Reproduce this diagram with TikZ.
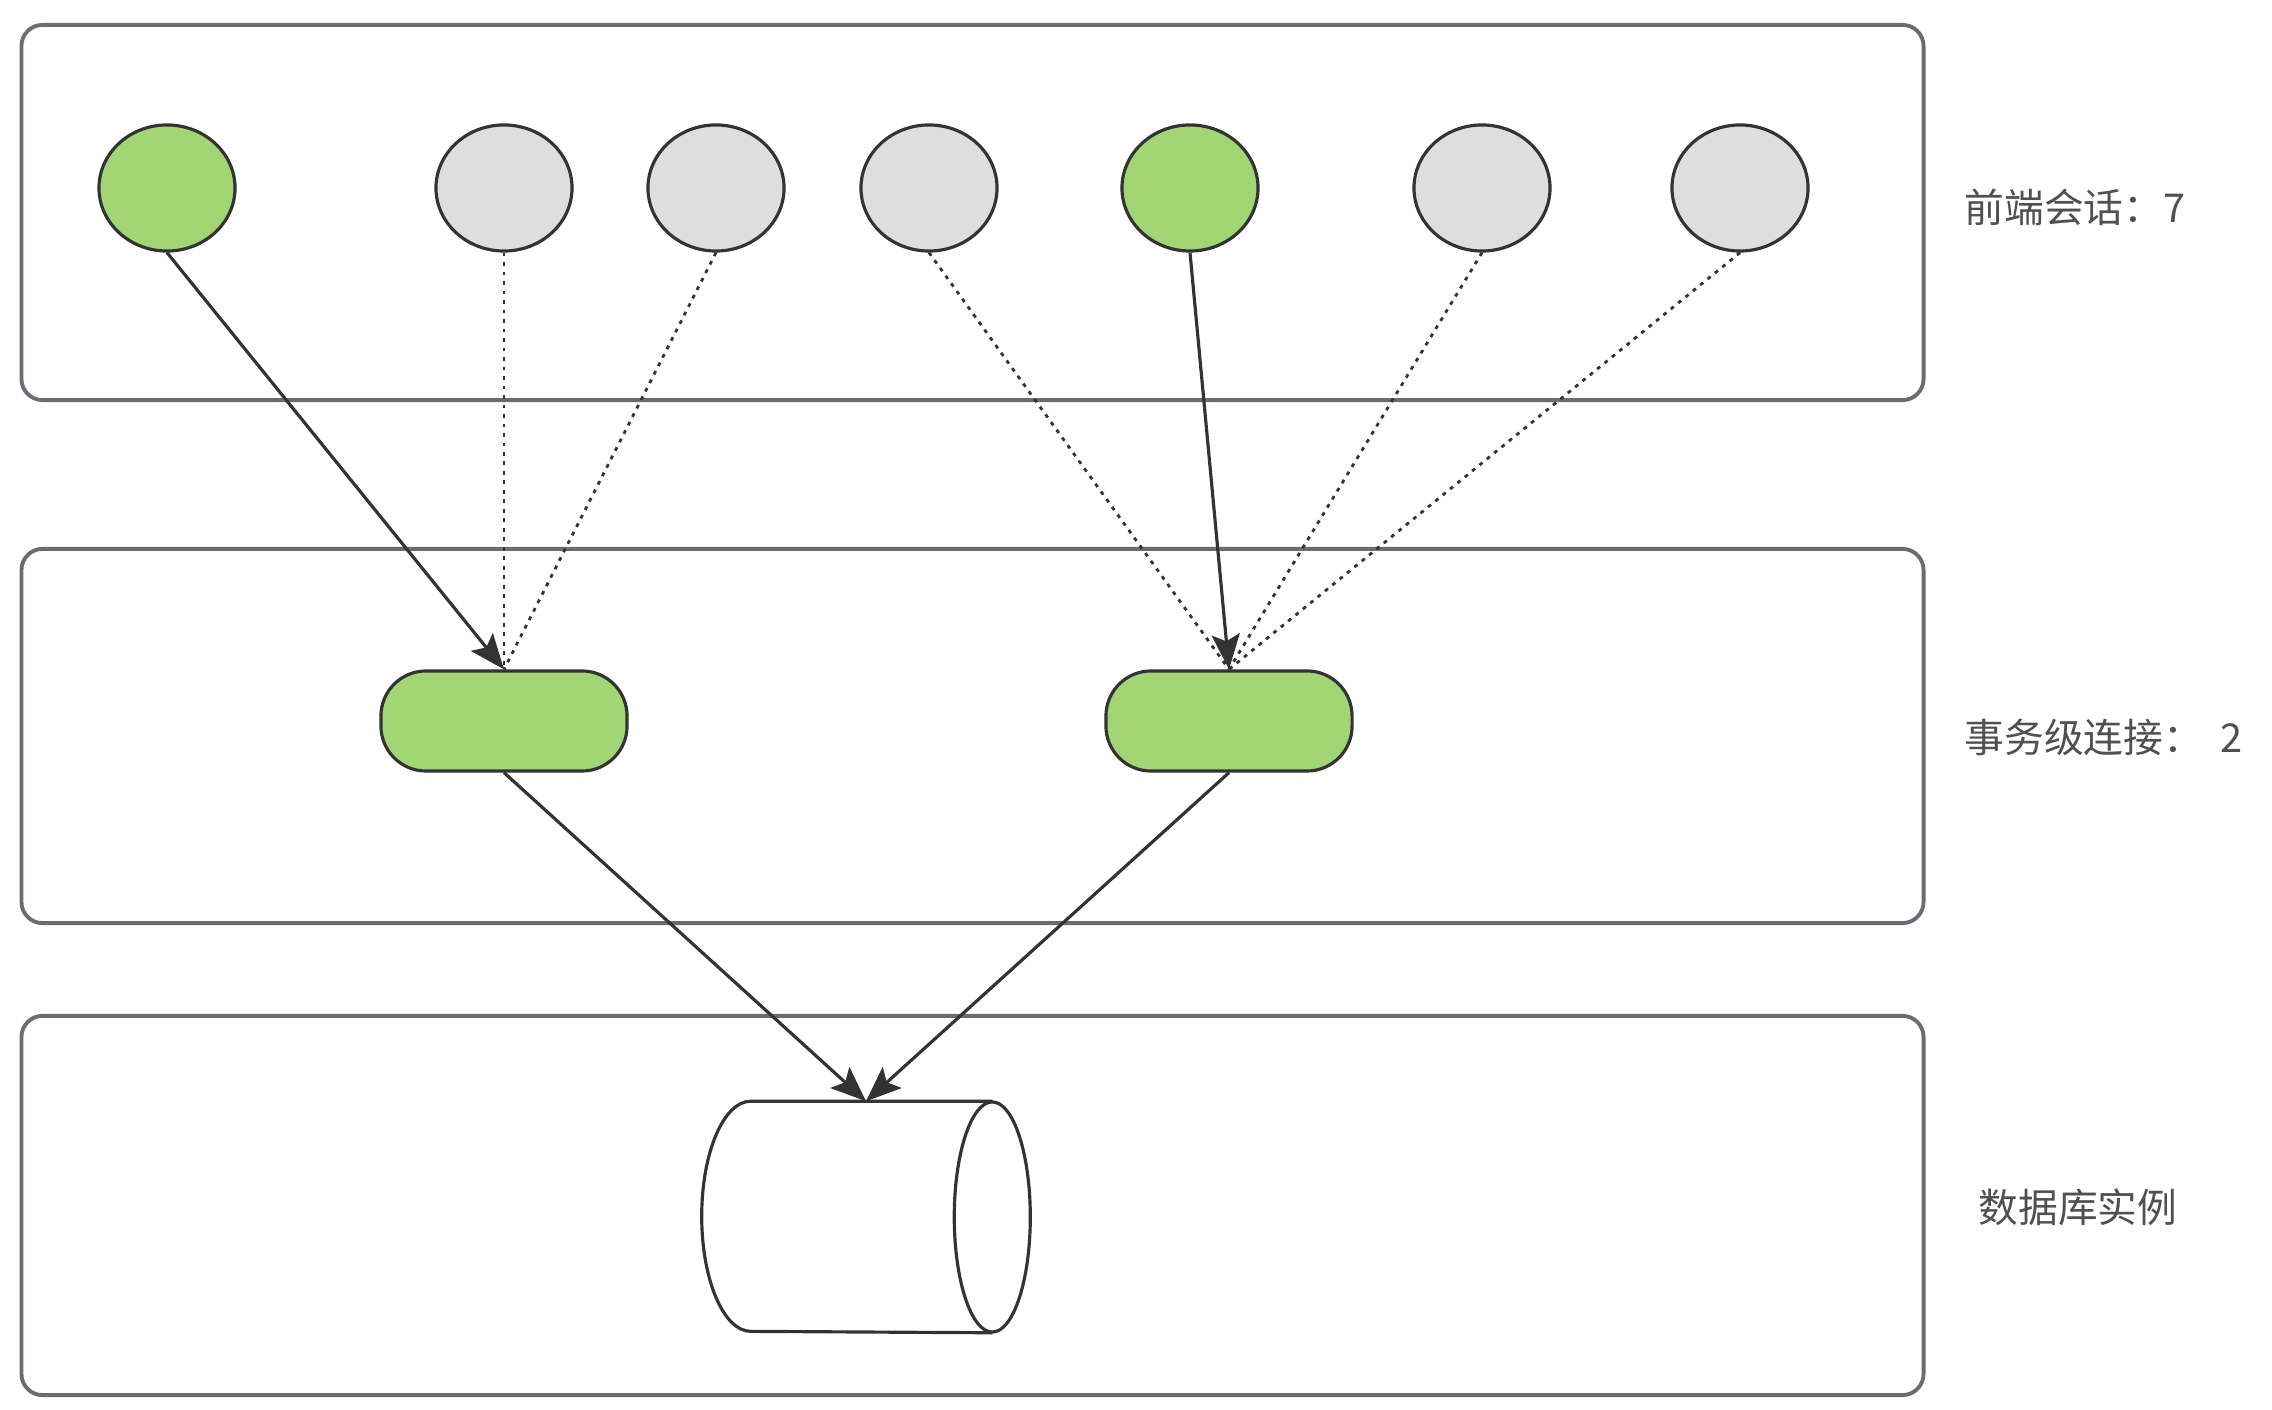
\documentclass[tikz,border=0pt]{standalone}
\usepackage{fontspec}
\usepackage{xcolor}
\usepackage{tikz}
\usetikzlibrary{shapes.geometric, arrows.meta, positioning}
\newfontfamily\cjk{Noto Sans CJK SC}
\definecolor{framegray}{RGB}{105, 108, 114}
\definecolor{edgedark}{RGB}{51, 51, 51}
\definecolor{sessiongreen}{RGB}{162, 213, 115}
\definecolor{idlegray}{RGB}{222, 222, 222}
\definecolor{labelgray}{RGB}{80, 80, 80}

\begin{document}
\begin{tikzpicture}[x=0.01cm, y=0.01cm,
    panel/.style={rectangle, rounded corners=6pt, draw=framegray, line width=1.1pt,
                  minimum width=19.01cm, inner sep=0pt},
    active/.style={ellipse, draw=edgedark, line width=0.9pt, fill=sessiongreen,
                   minimum width=1.36cm, minimum height=1.26cm, inner sep=0pt},
    idle/.style={ellipse, draw=edgedark, line width=0.9pt, fill=idlegray,
                 minimum width=1.36cm, minimum height=1.26cm, inner sep=0pt},
    conn/.style={rectangle, rounded corners=0.45cm, draw=edgedark, line width=0.9pt,
                 fill=sessiongreen, minimum width=2.46cm, minimum height=1.0cm, inner sep=0pt},
    db/.style={rectangle, minimum width=3.27cm, minimum height=2.30cm, inner sep=0pt},
    dbline/.style={draw=edgedark, line width=0.9pt},
    tag/.style={anchor=west, text=labelgray, font=\cjk\fontsize{11.3}{13}\selectfont, inner sep=0pt},
    arr/.style={-{Stealth[length=10pt, width=8pt, inset=2pt]}, line width=0.9pt, color=edgedark},
    link/.style={line width=0.8pt, dash pattern=on 1.1pt off 1.6pt, color=edgedark}
]
\useasboundingbox (0,0) rectangle (2272,-1410);

\node[panel, minimum height=3.75cm] (frontlayer) at (972.5,-212.5) {};
\node[panel, minimum height=3.74cm] (txlayer) at (972.5,-736) {};
\node[panel, minimum height=3.79cm] (dblayer) at (972.5,-1205.5) {};

\node[active] (s1) at (167,-188) {};
\node[idle] (s2) at (504,-188) {};
\node[idle] (s3) at (716,-188) {};
\node[idle] (s4) at (929,-188) {};
\node[active] (s5) at (1190,-188) {};
\node[idle] (s6) at (1482,-188) {};
\node[idle] (s7) at (1740,-188) {};

\node[conn] (c1) at (504,-721) {};
\node[conn] (c2) at (1229,-721) {};

\node[db] (inst) at (866,-1217) {};
\draw[dbline] ([xshift=-0.38cm]inst.north east) -- ([xshift=0.49cm]inst.north west)
    arc[start angle=90, end angle=270, x radius=0.49cm, y radius=1.15cm]
    -- ([xshift=-0.38cm]inst.south east);
\draw[dbline] ([xshift=-0.38cm]inst.east) ellipse[x radius=0.38cm, y radius=1.15cm];

\node[tag] (frontlabel) at (1964,-207) {前端会话：7};
\node[tag] (txlabel) at (1964,-737) {事务级连接：\hspace{0.45em}2};
\node[tag] (dblabel) at (1978,-1207) {数据库实例};

\draw[link] (s2.south) -- (c1.north);
\draw[link] (s3.south) -- (c1.north);
\draw[link] (s4.south) -- (c2.north);
\draw[link] (s6.south) -- (c2.north);
\draw[link] (s7.south) -- (c2.north);
\draw[arr] (s1.south) -- (c1.north);
\draw[arr] (s5.south) -- (c2.north);
\draw[arr] (c1.south) -- (inst.north);
\draw[arr] (c2.south) -- (inst.north);

\end{tikzpicture}
\end{document}
